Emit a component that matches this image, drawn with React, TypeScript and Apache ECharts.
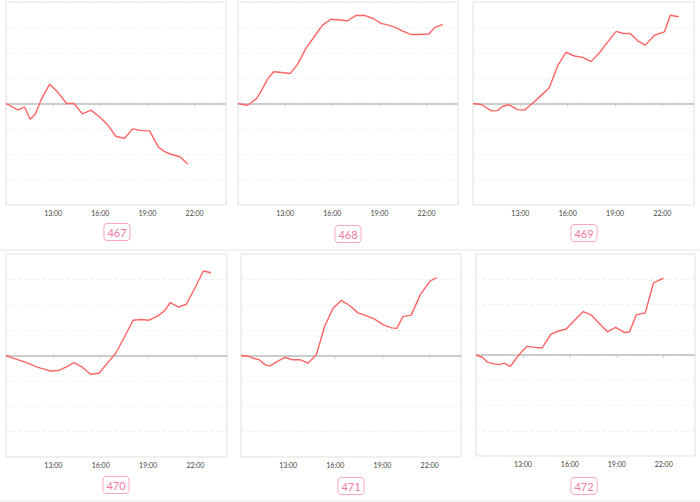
import React, { useEffect, useRef } from "react";
import * as echarts from "echarts";

// Panel ids
const panelIds = ["467", "468", "469", "470", "471", "472"];

// x tick labels (hours)
const tickHours = [13, 16, 19, 22];

// Times (decimal hours) and values for each panel
const times467 = [10.0, 10.75, 11.18, 11.54, 11.86, 12.25, 12.78, 13.32, 13.85, 14.33, 14.86, 15.4, 15.93, 16.47, 17.0, 17.54, 18.07, 18.6, 19.14, 19.68, 20.06, 20.49, 21.07, 21.56];
const values467 = [0, -0.25, -0.14, -0.62, -0.42, 0.17, 0.76, 0.43, 0, 0, -0.41, -0.26, -0.51, -0.84, -1.3, -1.37, -1.0, -1.07, -1.08, -1.7, -1.89, -2.0, -2.1, -2.38];

const times468 = [10.0, 10.55, 10.77, 11.19, 11.51, 11.87, 12.26, 12.79, 13.32, 13.79, 14.32, 14.85, 15.38, 15.91, 16.45, 16.98, 17.51, 18.04, 18.57, 19.11, 19.64, 20.02, 20.45, 20.98, 21.51, 22.15, 22.51, 23.04];
const values468 = [0, -0.07, 0, 0.2, 0.53, 0.95, 1.25, 1.22, 1.18, 1.54, 2.17, 2.63, 3.09, 3.32, 3.29, 3.26, 3.47, 3.47, 3.36, 3.16, 3.08, 3.0, 2.86, 2.72, 2.72, 2.74, 2.99, 3.12];

const times469 = [10.0, 10.53, 11.17, 11.55, 11.86, 12.29, 12.82, 13.28, 13.81, 14.34, 14.83, 15.36, 15.89, 16.42, 16.95, 17.48, 18.01, 18.54, 19.07, 19.49, 19.96, 20.44, 20.91, 21.5, 22.12, 22.5, 23.03];
const values469 = [0, -0.04, -0.29, -0.28, -0.12, -0.05, -0.24, -0.26, 0.03, 0.33, 0.62, 1.48, 2.02, 1.87, 1.82, 1.65, 2.0, 2.43, 2.84, 2.77, 2.76, 2.47, 2.3, 2.69, 2.82, 3.48, 3.42];

const times470 = [10.0, 10.49, 11.02, 11.5, 11.93, 12.35, 12.82, 13.35, 13.83, 14.3, 14.83, 15.36, 15.89, 16.42, 16.95, 17.48, 18.05, 18.54, 19.07, 19.6, 20.02, 20.4, 20.93, 21.44, 22.03, 22.5, 22.99];
const values470 = [0, -0.11, -0.22, -0.33, -0.45, -0.53, -0.61, -0.59, -0.45, -0.28, -0.46, -0.74, -0.7, -0.3, 0.09, 0.7, 1.39, 1.42, 1.39, 1.55, 1.75, 2.08, 1.91, 2.03, 2.74, 3.33, 3.26];

const times471 = [10.0, 10.51, 10.78, 11.14, 11.52, 11.84, 12.26, 12.79, 13.26, 13.78, 14.27, 14.8, 15.33, 15.86, 16.38, 16.91, 17.44, 17.97, 18.5, 19.03, 19.56, 19.92, 20.3, 20.83, 21.42, 22.03, 22.45];
const values471 = [0, -0.03, -0.11, -0.16, -0.36, -0.42, -0.25, -0.07, -0.17, -0.17, -0.3, 0.04, 1.16, 1.86, 2.17, 1.97, 1.68, 1.57, 1.43, 1.22, 1.09, 1.07, 1.53, 1.59, 2.41, 2.93, 3.07];

const times472 = [10.0, 10.4, 10.72, 11.07, 11.45, 11.81, 12.19, 12.72, 13.24, 13.77, 14.23, 14.78, 15.28, 15.77, 16.29, 16.86, 17.35, 17.87, 18.4, 18.93, 19.49, 19.81, 20.25, 20.82, 21.35, 21.98];
const values472 = [0, -0.09, -0.28, -0.34, -0.38, -0.32, -0.46, -0.01, 0.34, 0.3, 0.28, 0.82, 0.95, 1.03, 1.37, 1.72, 1.59, 1.26, 0.92, 1.09, 0.89, 0.91, 1.59, 1.67, 2.86, 3.04];

const allTimes = [times467, times468, times469, times470, times471, times472];
const allValues = [values467, values468, values469, values470, values471, values472];

// Layout (pixels)
const gridBoxes = [
  { left: 6, top: 2, width: 220, height: 203 },
  { left: 238, top: 2, width: 220, height: 203 },
  { left: 473, top: 2, width: 221, height: 203 },
  { left: 6, top: 254, width: 221, height: 203 },
  { left: 241, top: 254, width: 220, height: 203 },
  { left: 476, top: 254, width: 219, height: 202 },
];
const badgeCenters = [
  [117, 232],
  [348, 234],
  [584, 233],
  [116, 485],
  [351, 486],
  [584, 486],
];

export default function App() {
  const ref = useRef<HTMLDivElement>(null);
  useEffect(() => {
    if (!ref.current) return;
    const chart = echarts.init(ref.current, undefined, { renderer: "svg" });
    const grids = gridBoxes.map((g) => ({
      ...g,
      show: true,
      borderColor: "#dedede",
      borderWidth: 1,
      containLabel: false,
    }));
    const xAxes = gridBoxes.map((_, i) => ({
      type: "value",
      gridIndex: i,
      min: 10,
      max: 24,
      axisLine: { show: false },
      axisTick: {
        show: true,
        customValues: tickHours,
        length: 3,
        lineStyle: { color: "#d0d0d0" },
      },
      axisLabel: {
        customValues: tickHours,
        formatter: (v: number) => `${v}:00`,
        fontSize: 7,
        fontFamily: "Lato",
        color: "#444",
        margin: 4,
      },
      splitLine: { show: false },
    }));
    const yAxes = gridBoxes.map((_, i) => ({
      type: "value",
      gridIndex: i,
      min: -4,
      max: 4,
      interval: 1,
      axisLine: { show: false },
      axisTick: { show: false },
      axisLabel: { show: false },
      splitLine: { show: true, lineStyle: { color: "#f1f1f1", type: "dashed", width: 1 } },
    }));
    const series = allTimes.map((ts, i) => ({
      type: "line",
      xAxisIndex: i,
      yAxisIndex: i,
      data: ts.map((t, j) => [t, allValues[i][j]]),
      showSymbol: false,
      symbol: "none",
      lineStyle: { color: "#ff6464", width: 1.4 },
      itemStyle: { color: "#ff6464" },
      markLine: {
        silent: true,
        symbol: "none",
        label: { show: false },
        lineStyle: { color: "#bdbdbd", width: 1.5, type: "solid" },
        data: [{ yAxis: 0 }],
        z: 1,
      },
      z: 3,
    }));
    const badges = panelIds.map((id, i) => ({
      type: "text",
      x: badgeCenters[i][0],
      y: badgeCenters[i][1],
      style: {
        text: id,
        fill: "#f27a9e",
        font: "11px Lato",
        align: "center",
        verticalAlign: "middle",
        borderColor: "#f7a9c0",
        borderWidth: 1,
        borderRadius: 3,
        padding: [3, 3, 2, 3],
        backgroundColor: "#fff",
      },
    }));
    const separators = [
      {
        type: "line",
        shape: { x1: 0, y1: 250, x2: 700, y2: 250 },
        style: { stroke: "#e6e6e6", lineWidth: 1 },
      },
      {
        type: "line",
        shape: { x1: 0, y1: 501, x2: 700, y2: 501 },
        style: { stroke: "#e6e6e6", lineWidth: 1 },
      },
    ];
    chart.setOption({
      animation: false,
      backgroundColor: "#fff",
      grid: grids,
      xAxis: xAxes,
      yAxis: yAxes,
      series,
      graphic: [...separators, ...badges],
    });
    return () => chart.dispose();
  }, []);
  return (
    <div
      ref={ref}
      style={{ position: "absolute", left: 0, top: 0, width: 700, height: 502 }}
    />
  );
}
